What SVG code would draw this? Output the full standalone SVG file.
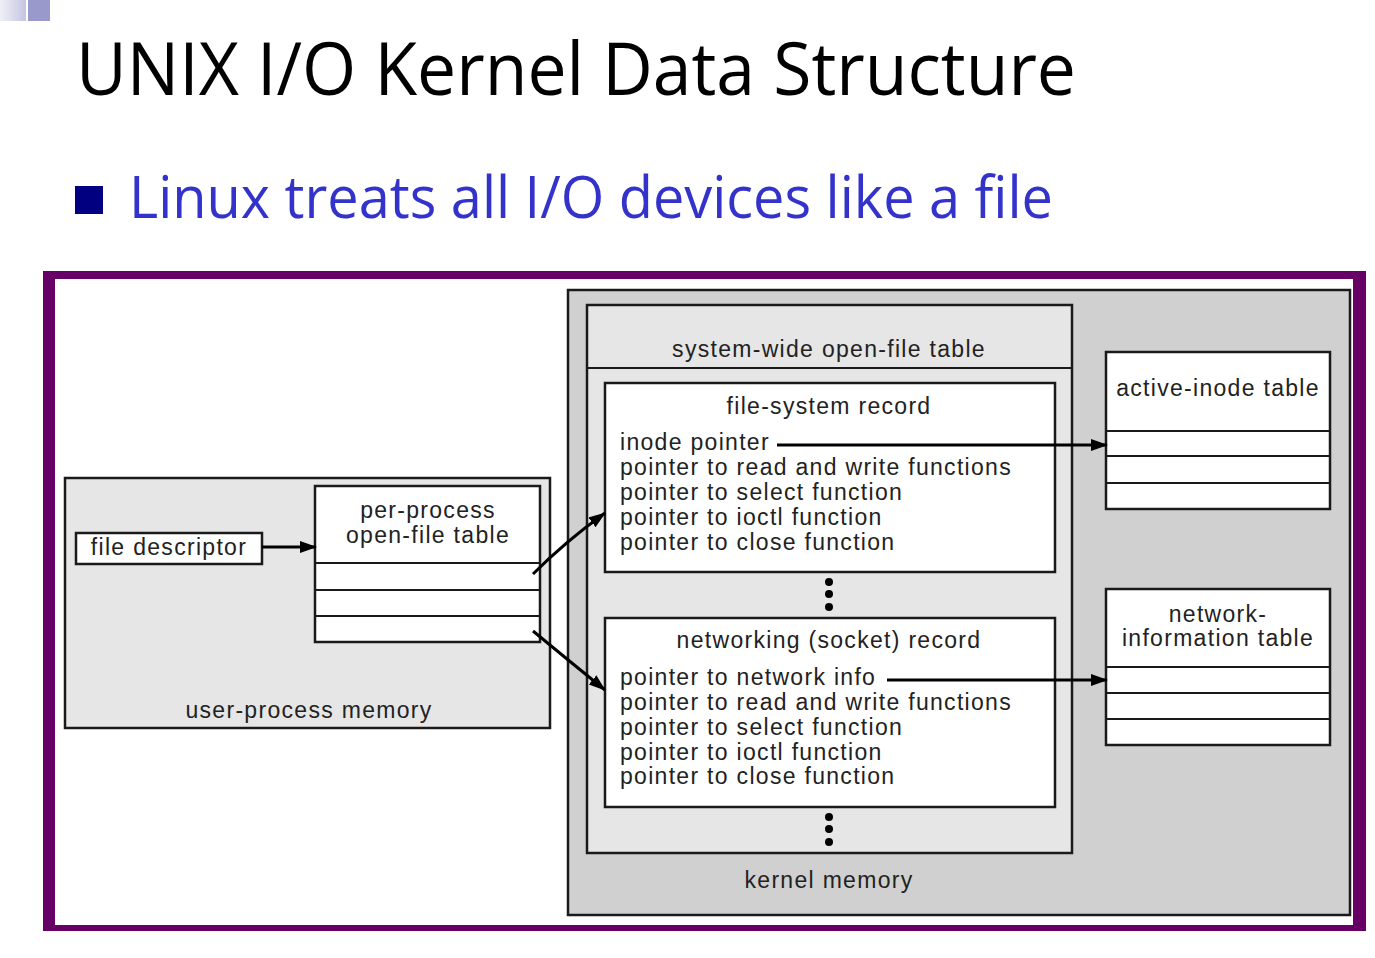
<svg xmlns="http://www.w3.org/2000/svg" width="1375" height="958" viewBox="0 0 1375 958">
<style>
.t{font-family:"Liberation Sans",Arial,Helvetica,sans-serif;font-size:23px;letter-spacing:1.3px;fill:#222}
.c{text-anchor:middle}
.box{stroke:#1a1a1a;stroke-width:2.5}
.w{fill:#fff}
.g1{fill:#e6e6e6}
.g2{fill:#d0d0d0}
.ln{stroke:#1a1a1a;stroke-width:2}
.conn{fill:none;stroke:#000;stroke-width:3}
</style>
<defs>
<linearGradient id="gr" x1="0" x2="1" y1="0" y2="0">
<stop offset="0" stop-color="#f0f0f8"/>
<stop offset="1" stop-color="#c4c4e2"/>
</linearGradient>
<marker id="ah" markerUnits="userSpaceOnUse" markerWidth="18" markerHeight="14" refX="16" refY="6" orient="auto">
<path d="M0,0 L17,6 L0,12 Z" fill="#000"/>
</marker>
</defs>
<rect width="1375" height="958" fill="#fff"/>
<rect x="0" y="0" width="26" height="21" fill="url(#gr)"/>
<rect x="28" y="0" width="22" height="21" fill="#9999cc"/>
<text x="76" y="95" font-family="'Open Sans','Noto Sans',sans-serif" font-size="73" fill="#000" textLength="1000" lengthAdjust="spacingAndGlyphs">UNIX I/O Kernel Data Structure</text>
<rect x="75" y="186" width="28" height="28" fill="#000080"/>
<text x="129" y="218" font-family="'Open Sans','Noto Sans',sans-serif" font-size="58" fill="#3333cc" textLength="924" lengthAdjust="spacingAndGlyphs">Linux treats all I/O devices like a file</text>
<rect x="43" y="271" width="1323" height="660" fill="#660066"/>
<rect x="55" y="279" width="1298" height="646" fill="#fff"/>
<g id="user-process-memory">
<rect class="box g1" x="65" y="478" width="485" height="250"/>
<text class="t c" x="309" y="718">user-process memory</text>
</g>
<g id="file-descriptor">
<rect class="box w" x="76" y="533" width="186" height="31"/>
<text class="t c" x="169" y="555">file descriptor</text>
</g>
<g id="per-process-table">
<rect class="box w" x="315" y="486" width="225" height="156" stroke-width="3"/>
<line class="ln" x1="315" y1="563" x2="540" y2="563"/>
<line class="ln" x1="315" y1="590" x2="540" y2="590" stroke="#777"/>
<line class="ln" x1="315" y1="616" x2="540" y2="616"/>
<text class="t c" x="428" y="518">per-process</text>
<text class="t c" x="428" y="543">open-file table</text>
</g>
<g id="kernel-memory">
<rect class="box g2" x="568" y="290" width="782" height="625"/>
<text class="t c" x="829" y="888">kernel memory</text>
</g>
<g id="system-wide-table">
<rect class="box g1" x="587" y="305" width="485" height="548"/>
<line class="ln" x1="587" y1="368" x2="1072" y2="368"/>
<text class="t c" x="829" y="357">system-wide open-file table</text>
<circle cx="829" cy="582" r="4" fill="#000"/>
<circle cx="829" cy="594" r="4" fill="#000"/>
<circle cx="829" cy="607" r="4" fill="#000"/>
<circle cx="829" cy="817" r="4" fill="#000"/>
<circle cx="829" cy="829" r="4" fill="#000"/>
<circle cx="829" cy="842" r="4" fill="#000"/>
</g>
<g id="file-system-record">
<rect class="box w" x="605" y="383" width="450" height="189"/>
<text class="t c" x="829" y="414">file-system record</text>
<text class="t" x="620" y="450">inode pointer</text>
<text class="t" x="620" y="475">pointer to read and write functions</text>
<text class="t" x="620" y="500">pointer to select function</text>
<text class="t" x="620" y="525">pointer to ioctl function</text>
<text class="t" x="620" y="550">pointer to close function</text>
</g>
<g id="networking-record">
<rect class="box w" x="605" y="618" width="450" height="189"/>
<text class="t c" x="829" y="648">networking (socket) record</text>
<text class="t" x="620" y="685">pointer to network info</text>
<text class="t" x="620" y="710">pointer to read and write functions</text>
<text class="t" x="620" y="735">pointer to select function</text>
<text class="t" x="620" y="760">pointer to ioctl function</text>
<text class="t" x="620" y="784">pointer to close function</text>
</g>
<g id="active-inode-table">
<rect class="box w" x="1106" y="352" width="224" height="157"/>
<line class="ln" x1="1106" y1="431" x2="1330" y2="431"/>
<line class="ln" x1="1106" y1="456" x2="1330" y2="456"/>
<line class="ln" x1="1106" y1="483" x2="1330" y2="483" stroke="#777"/>
<text class="t c" x="1218" y="396">active-inode table</text>
</g>
<g id="network-information-table">
<rect class="box w" x="1106" y="589" width="224" height="156"/>
<line class="ln" x1="1106" y1="667" x2="1330" y2="667"/>
<line class="ln" x1="1106" y1="693" x2="1330" y2="693"/>
<line class="ln" x1="1106" y1="719" x2="1330" y2="719"/>
<text class="t c" x="1218" y="622">network-</text>
<text class="t c" x="1218" y="646">information table</text>
</g>
<g id="connectors">
<path class="conn" d="M262,547 H316" marker-end="url(#ah)"/>
<path class="conn" d="M533,574 Q566,541 605,513" marker-end="url(#ah)"/>
<path class="conn" d="M533,631 Q568,660 605,690" marker-end="url(#ah)"/>
<path class="conn" d="M777,445 H1107" marker-end="url(#ah)"/>
<path class="conn" d="M887,680 H1107" marker-end="url(#ah)"/>
</g>
</svg>
